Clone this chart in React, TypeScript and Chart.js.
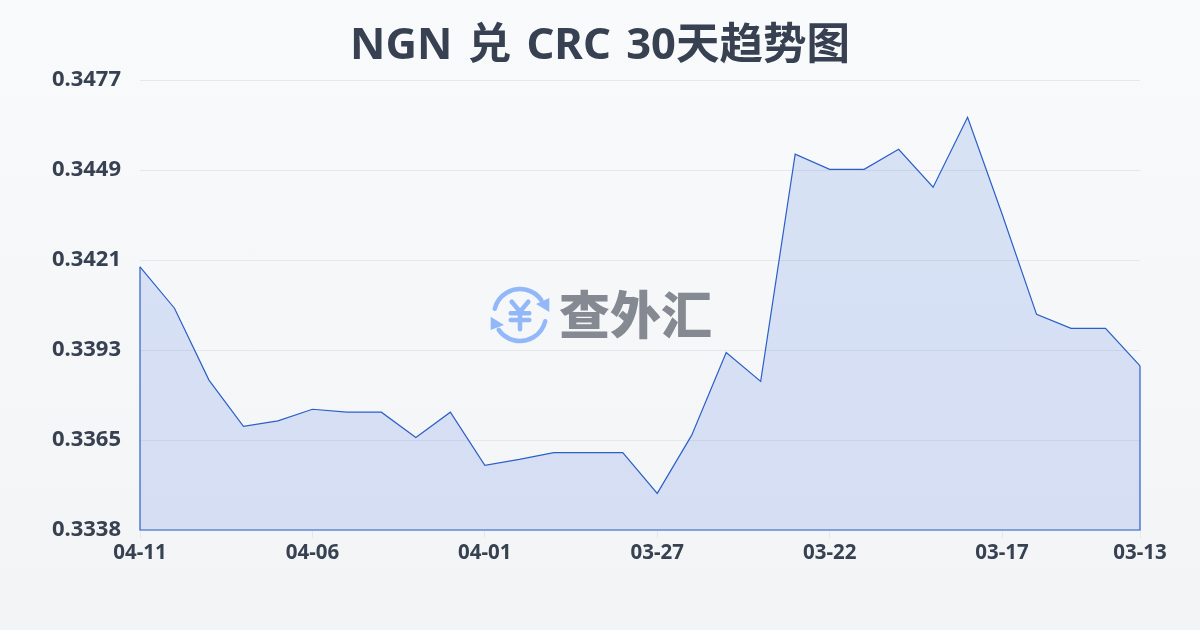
import React, { useEffect, useRef } from "react";
import { Chart, registerables } from "chart.js";

Chart.register(...registerables);

const dates = [
  "04-11", "04-10", "04-09", "04-08", "04-07", "04-06", "04-05", "04-04", "04-03", "04-02",
  "04-01", "03-31", "03-30", "03-29", "03-28", "03-27", "03-26", "03-25", "03-24", "03-23",
  "03-22", "03-21", "03-20", "03-19", "03-18", "03-17", "03-16", "03-15", "03-14", "03-13",
];
const rates = [
  0.34189, 0.34061, 0.33839, 0.33696, 0.33713, 0.33749, 0.3374, 0.3374, 0.33662, 0.3374,
  0.33576, 0.33594, 0.33615, 0.33615, 0.33615, 0.33489, 0.33669, 0.33924, 0.33835, 0.34537,
  0.3449, 0.3449, 0.34552, 0.34435, 0.34651, 0.34352, 0.34042, 0.33999, 0.33999, 0.33883,
];
const yTicks = [0.33376, 0.33654, 0.33932, 0.3421, 0.34488, 0.34766];
const shownDates = ["04-11", "04-06", "04-01", "03-27", "03-22", "03-17", "03-13"];
const titleText = "NGN 兑 CRC 30天趋势图";
const logoText = "查外汇";

const FONT = '"Noto Sans", "Noto Sans CJK SC", sans-serif';
const INK = "#374151";
const LINE = "#2b5fc7";

const titleSpacing = {
  id: "titleSpacing",
  beforeDraw(chart: any) {
    chart.ctx.wordSpacing = "4px";
  },
};

const areaEdges = {
  id: "areaEdges",
  afterDatasetsDraw(chart: any) {
    const pts = chart.getDatasetMeta(0).data;
    const first = pts[0];
    const last = pts[pts.length - 1];
    const bottom = chart.scales.y.bottom;
    const c = chart.ctx;
    c.save();
    c.strokeStyle = LINE;
    c.lineWidth = 1.2;
    c.beginPath();
    c.moveTo(first.x, first.y);
    c.lineTo(first.x, bottom);
    c.lineTo(last.x, bottom);
    c.lineTo(last.x, last.y);
    c.stroke();
    c.restore();
  },
};

const watermark = {
  id: "watermark",
  afterDraw(chart: any) {
    const c = chart.ctx;
    c.save();
    const cx = 520;
    const cy = 315;
    c.strokeStyle = "#93b8f9";
    c.fillStyle = "#93b8f9";
    c.lineWidth = 4.5;
    c.lineCap = "round";
    c.lineJoin = "round";
    c.beginPath();
    c.arc(cx, cy, 26, (-166 * Math.PI) / 180, (-35 * Math.PI) / 180);
    c.stroke();
    c.beginPath();
    c.arc(cx, cy, 26, (14 * Math.PI) / 180, (145 * Math.PI) / 180);
    c.stroke();
    c.beginPath();
    c.moveTo(cx + 29.3, cy - 17);
    c.lineTo(cx + 29.3, cy - 3);
    c.lineTo(cx + 16, cy - 11);
    c.closePath();
    c.fill();
    c.beginPath();
    c.moveTo(cx - 29.3, cy + 1.7);
    c.lineTo(cx - 29.3, cy + 15);
    c.lineTo(cx - 16, cy + 10);
    c.closePath();
    c.fill();
    c.beginPath();
    c.moveTo(cx - 8.3, cy - 13.3);
    c.lineTo(cx, cy - 3.3);
    c.lineTo(cx + 8.3, cy - 13.3);
    c.moveTo(cx - 9.3, cy - 1.7);
    c.lineTo(cx + 9.3, cy - 1.7);
    c.moveTo(cx - 9.3, cy + 5);
    c.lineTo(cx + 9.3, cy + 5);
    c.moveTo(cx, cy - 3.3);
    c.lineTo(cx, cy + 14.3);
    c.stroke();
    c.font = '900 51px "Noto Sans CJK SC", sans-serif';
    c.fillStyle = "#858a92";
    c.textAlign = "left";
    c.textBaseline = "middle";
    c.fillText(logoText, 559, 315);
    c.restore();
  },
};

export default function App() {
  const ref = useRef<HTMLCanvasElement>(null);
  useEffect(() => {
    document.body.style.margin = "0";
    const chart = new Chart(ref.current!, {
      type: "line",
      data: {
        labels: dates,
        datasets: [
          {
            data: rates,
            yAxisID: "y",
            borderColor: LINE,
            borderWidth: 1.2,
            backgroundColor: "rgba(40,97,218,0.15)",
            fill: "start",
            tension: 0,
            pointRadius: 0,
          },
        ],
      },
      options: {
        animation: false,
        responsive: false,
        plugins: {
          legend: { display: false },
          tooltip: { enabled: false },
          title: {
            display: true,
            text: titleText,
            color: INK,
            font: { family: FONT, size: 43.5, weight: "bold", lineHeight: 1.2 },
            padding: { top: 21, bottom: 6.8 },
          },
        },
        scales: {
          x: {
            type: "category",
            afterFit(s: any) {
              s.height = 100;
            },
            afterBuildTicks(s: any) {
              s.ticks = s.ticks.filter((t: any) => shownDates.includes(dates[t.value]));
            },
            border: { display: false },
            grid: { drawOnChartArea: false, drawTicks: true, tickLength: 8, color: "#e5e7eb" },
            ticks: {
              autoSkip: false,
              maxRotation: 0,
              minRotation: 0,
              padding: 3,
              color: INK,
              font: { family: FONT, size: 20.5, weight: "bold" },
            },
          },
          y: {
            min: yTicks[0],
            max: yTicks[yTicks.length - 1],
            afterFit(s: any) {
              s.width = 140;
            },
            afterBuildTicks(s: any) {
              s.ticks = yTicks.map((value) => ({ value }));
            },
            border: { display: false },
            grid: { color: "#e5e7eb", drawTicks: false },
            ticks: {
              padding: 19,
              color: INK,
              font: { family: FONT, size: 22, weight: "bold" },
              callback: (v: any) => Number(v).toFixed(4),
            },
          },
          rightGutter: {
            type: "linear",
            position: "right",
            afterFit(s: any) {
              s.width = 60;
            },
            border: { display: false },
            grid: { display: false },
            ticks: { display: false },
          },
        },
      },
      plugins: [titleSpacing, areaEdges, watermark],
    } as any);
    return () => chart.destroy();
  }, []);
  return (
    <div style={{ width: 1200, height: 630, background: "linear-gradient(180deg,#f8fafc,#f3f4f6)" }}>
      <canvas ref={ref} width={1200} height={630} style={{ display: "block" }} />
    </div>
  );
}
